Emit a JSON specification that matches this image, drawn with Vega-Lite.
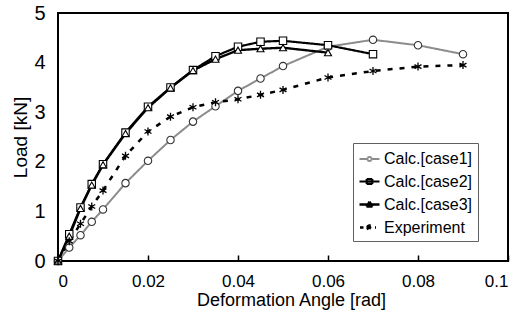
{
  "$schema": "https://vega.github.io/schema/vega-lite/v6.json",
  "width": 450,
  "height": 248,
  "autosize": {"type": "none"},
  "padding": {"left": 58, "top": 13, "right": 15, "bottom": 59},
  "background": "white",
  "config": {
    "view": {"stroke": "black", "strokeWidth": 2},
    "font": "Liberation Sans",
    "axis": {"grid": false, "domain": false, "labelColor": "black", "titleColor": "black", "labelFont": "Liberation Sans", "titleFont": "Liberation Sans", "titleFontWeight": "normal"}
  },
  "data": {
    "values": [
      {"series": "Calc.[case1]", "x": 0, "y": 0},
      {"series": "Calc.[case1]", "x": 0.0025, "y": 0.27},
      {"series": "Calc.[case1]", "x": 0.005, "y": 0.52},
      {"series": "Calc.[case1]", "x": 0.0075, "y": 0.79},
      {"series": "Calc.[case1]", "x": 0.01, "y": 1.04},
      {"series": "Calc.[case1]", "x": 0.015, "y": 1.57},
      {"series": "Calc.[case1]", "x": 0.02, "y": 2.02},
      {"series": "Calc.[case1]", "x": 0.025, "y": 2.44},
      {"series": "Calc.[case1]", "x": 0.03, "y": 2.81},
      {"series": "Calc.[case1]", "x": 0.035, "y": 3.12},
      {"series": "Calc.[case1]", "x": 0.04, "y": 3.43},
      {"series": "Calc.[case1]", "x": 0.045, "y": 3.68},
      {"series": "Calc.[case1]", "x": 0.05, "y": 3.93},
      {"series": "Calc.[case1]", "x": 0.06, "y": 4.32},
      {"series": "Calc.[case1]", "x": 0.07, "y": 4.46},
      {"series": "Calc.[case1]", "x": 0.08, "y": 4.35},
      {"series": "Calc.[case1]", "x": 0.09, "y": 4.17},
      {"series": "Calc.[case2]", "x": 0, "y": 0},
      {"series": "Calc.[case2]", "x": 0.0025, "y": 0.54},
      {"series": "Calc.[case2]", "x": 0.005, "y": 1.08},
      {"series": "Calc.[case2]", "x": 0.0075, "y": 1.55},
      {"series": "Calc.[case2]", "x": 0.01, "y": 1.95},
      {"series": "Calc.[case2]", "x": 0.015, "y": 2.59},
      {"series": "Calc.[case2]", "x": 0.02, "y": 3.11},
      {"series": "Calc.[case2]", "x": 0.025, "y": 3.5},
      {"series": "Calc.[case2]", "x": 0.03, "y": 3.85},
      {"series": "Calc.[case2]", "x": 0.035, "y": 4.13},
      {"series": "Calc.[case2]", "x": 0.04, "y": 4.32},
      {"series": "Calc.[case2]", "x": 0.045, "y": 4.42},
      {"series": "Calc.[case2]", "x": 0.05, "y": 4.44},
      {"series": "Calc.[case2]", "x": 0.06, "y": 4.35},
      {"series": "Calc.[case2]", "x": 0.07, "y": 4.17},
      {"series": "Calc.[case3]", "x": 0, "y": 0},
      {"series": "Calc.[case3]", "x": 0.0025, "y": 0.5},
      {"series": "Calc.[case3]", "x": 0.005, "y": 1.06},
      {"series": "Calc.[case3]", "x": 0.0075, "y": 1.53},
      {"series": "Calc.[case3]", "x": 0.01, "y": 1.94},
      {"series": "Calc.[case3]", "x": 0.015, "y": 2.57},
      {"series": "Calc.[case3]", "x": 0.02, "y": 3.09},
      {"series": "Calc.[case3]", "x": 0.025, "y": 3.49},
      {"series": "Calc.[case3]", "x": 0.03, "y": 3.84},
      {"series": "Calc.[case3]", "x": 0.035, "y": 4.07},
      {"series": "Calc.[case3]", "x": 0.04, "y": 4.25},
      {"series": "Calc.[case3]", "x": 0.045, "y": 4.28},
      {"series": "Calc.[case3]", "x": 0.05, "y": 4.3},
      {"series": "Calc.[case3]", "x": 0.06, "y": 4.2},
      {"series": "Experiment", "x": 0, "y": 0},
      {"series": "Experiment", "x": 0.0025, "y": 0.4},
      {"series": "Experiment", "x": 0.005, "y": 0.75},
      {"series": "Experiment", "x": 0.0075, "y": 1.1},
      {"series": "Experiment", "x": 0.01, "y": 1.42},
      {"series": "Experiment", "x": 0.015, "y": 2.12},
      {"series": "Experiment", "x": 0.02, "y": 2.61},
      {"series": "Experiment", "x": 0.025, "y": 2.91},
      {"series": "Experiment", "x": 0.03, "y": 3.1},
      {"series": "Experiment", "x": 0.035, "y": 3.2},
      {"series": "Experiment", "x": 0.04, "y": 3.26},
      {"series": "Experiment", "x": 0.045, "y": 3.35},
      {"series": "Experiment", "x": 0.05, "y": 3.45},
      {"series": "Experiment", "x": 0.06, "y": 3.7},
      {"series": "Experiment", "x": 0.07, "y": 3.83},
      {"series": "Experiment", "x": 0.08, "y": 3.92},
      {"series": "Experiment", "x": 0.09, "y": 3.95}
    ]
  },
  "encoding": {
    "x": {
      "field": "x", "type": "quantitative",
      "scale": {"domain": [0, 0.1], "nice": false, "zero": false},
      "axis": {"values": [0, 0.02, 0.04, 0.06, 0.08, 0.1], "format": "~g", "tickSize": -6, "tickColor": "black", "tickWidth": 1.5, "labelFontSize": 17, "labelPadding": 18, "title": "Deformation Angle [rad]", "titleFontSize": 18, "titlePadding": 2, "titleX": 233}
    },
    "y": {
      "field": "y", "type": "quantitative",
      "scale": {"domain": [0, 5], "nice": false},
      "axis": {"values": [0, 1, 2, 3, 4, 5], "ticks": false, "labelFontSize": 20, "labelPadding": 13, "title": "Load [kN]", "titleFontSize": 19, "titlePadding": 3}
    }
  },
  "layer": [
    {
      "mark": {"type": "line", "clip": false},
      "encoding": {
        "detail": {"field": "series"},
        "color": {
          "field": "series", "type": "nominal",
          "scale": {"domain": ["Calc.[case1]", "Calc.[case2]", "Calc.[case3]", "Experiment"], "range": ["#8c8c8c", "#000000", "#000000", "#000000"]},
          "legend": {
            "title": null,
            "orient": "none",
            "legendX": 295,
            "legendY": 130,
            "padding": 5,
            "strokeColor": "#606060",
            "fillColor": "white",
            "labelFontSize": 16,
            "labelColor": "black",
            "labelFont": "Liberation Sans",
            "symbolSize": 400,
            "symbolType": "stroke",
            "rowPadding": 3,
            "labelOffset": 3,
            "encode": {
              "symbols": {
                "update": {
                  "shape": {"signal": "datum.value === 'Calc.[case1]' ? 'M-1,0H-0.22M0.22,0H1M0.22,0L0.178,0.129M0.178,0.129L0.068,0.209M0.068,0.209L-0.068,0.209M-0.068,0.209L-0.178,0.129M-0.178,0.129L-0.22,0M-0.22,0L-0.178,-0.129M-0.178,-0.129L-0.068,-0.209M-0.068,-0.209L0.068,-0.209M0.068,-0.209L0.178,-0.129M0.178,-0.129L0.22,0' : datum.value === 'Calc.[case2]' ? 'M-1,0H1M-0.28,-0.24H0.28M0.28,-0.24V0.24M0.28,0.24H-0.28M-0.28,0.24V-0.24' : datum.value === 'Calc.[case3]' ? 'M-1,0H1M0,-0.28L0.3,0.22M0.3,0.22H-0.3M-0.3,0.22L0,-0.28' : 'M-0.95,0H-0.6M0.55,0H0.65M0,-0.32V0.32M-0.28,-0.16L0.28,0.16M-0.28,0.16L0.28,-0.16'"},
                  "strokeWidth": {"signal": "datum.value === 'Calc.[case2]' ? 2.5 : datum.value === 'Calc.[case3]' ? 1.2 : datum.value === 'Experiment' ? 2 : 1.5"}
                }
              }
            }
          }
        },
        "strokeWidth": {
          "field": "series", "type": "nominal",
          "scale": {"domain": ["Calc.[case1]", "Calc.[case2]", "Calc.[case3]", "Experiment"], "range": [2, 2.5, 1.2, 2.2]},
          "legend": null
        },
        "strokeDash": {
          "field": "series", "type": "nominal",
          "scale": {"domain": ["Calc.[case1]", "Calc.[case2]", "Calc.[case3]", "Experiment"], "range": [[1, 0], [1, 0], [1, 0], [5, 7]]},
          "legend": null
        }
      }
    },
    {
      "transform": [{"filter": "datum.series === 'Calc.[case1]'"}],
      "mark": {"type": "point", "shape": "circle", "filled": false, "fill": "white", "fillOpacity": 1, "opacity": 1, "size": 55, "strokeWidth": 1.1, "stroke": "#333333", "clip": false}
    },
    {
      "transform": [{"filter": "datum.series === 'Calc.[case2]'"}],
      "mark": {"type": "point", "shape": "square", "filled": false, "fill": "white", "fillOpacity": 1, "opacity": 1, "size": 55, "strokeWidth": 1.1, "stroke": "black", "clip": false}
    },
    {
      "transform": [{"filter": "datum.series === 'Calc.[case3]'"}],
      "mark": {"type": "point", "shape": "triangle-up", "filled": false, "fill": "white", "fillOpacity": 1, "opacity": 1, "size": 50, "strokeWidth": 1.1, "stroke": "black", "clip": false}
    },
    {
      "transform": [{"filter": "datum.series === 'Experiment'"}],
      "mark": {"type": "point", "shape": "M0,-1V1M-0.87,-0.5L0.87,0.5M-0.87,0.5L0.87,-0.5", "filled": false, "fill": "white", "opacity": 1, "size": 64, "strokeWidth": 1.3, "stroke": "black", "clip": false}
    }
  ]
}
